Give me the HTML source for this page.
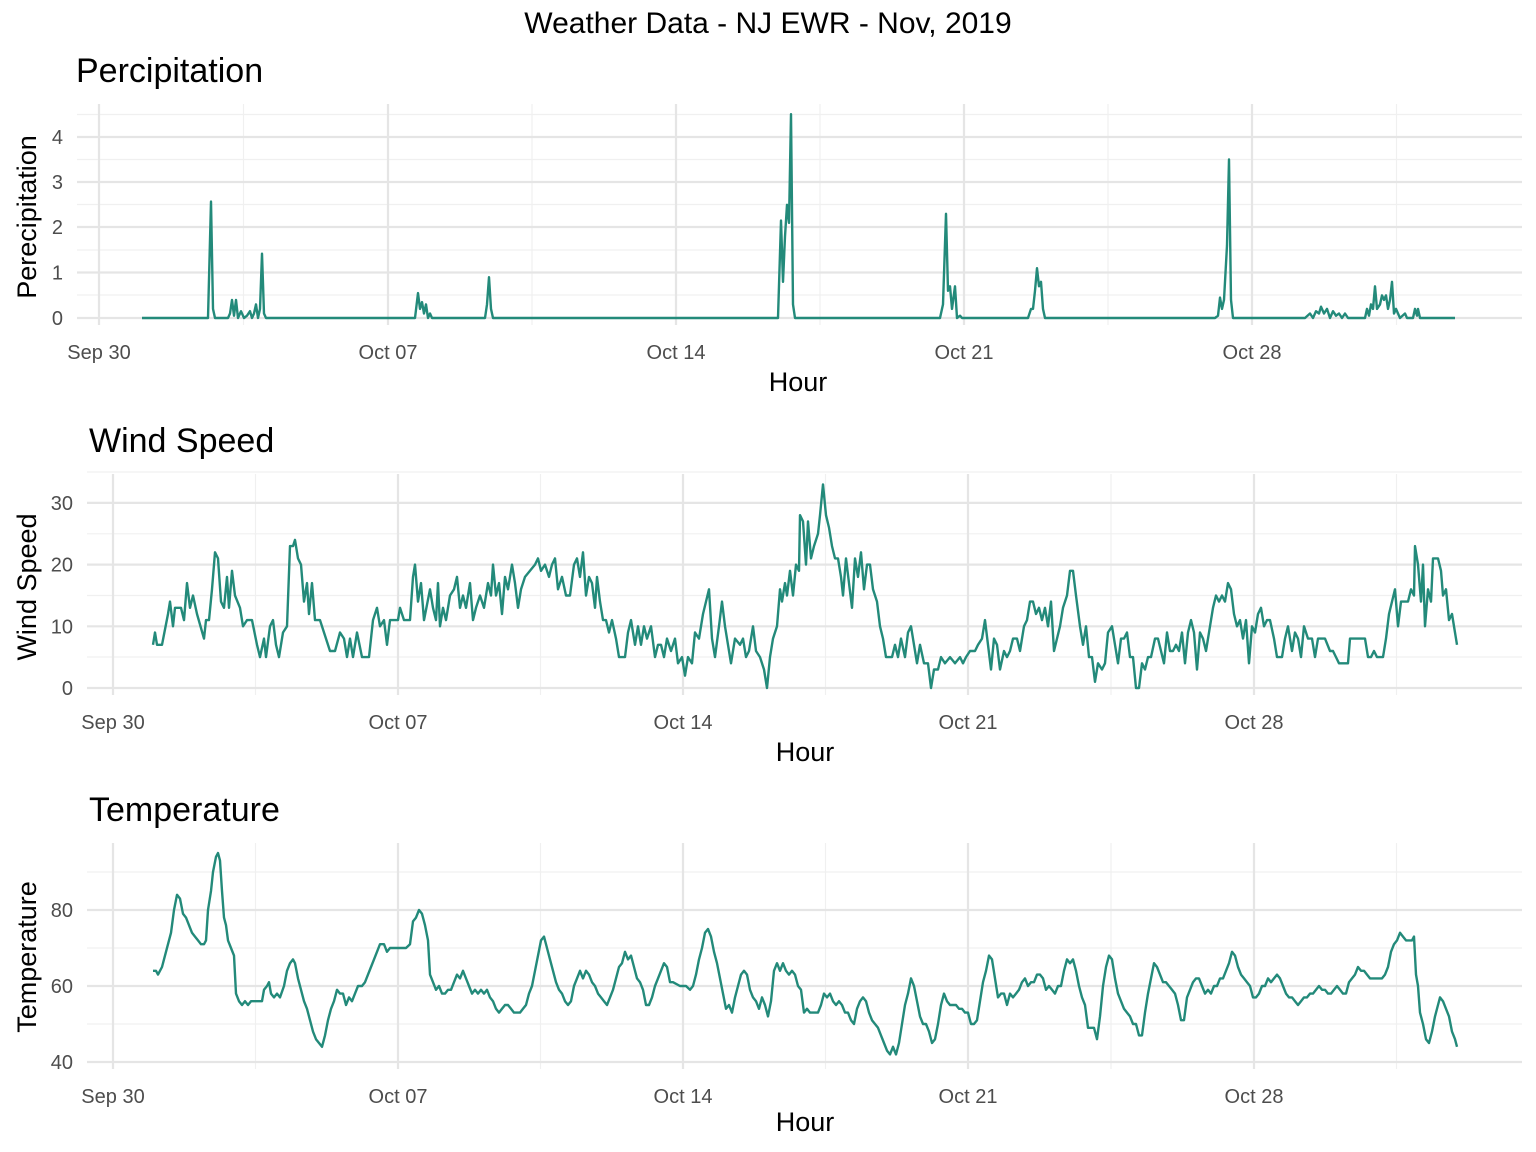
<!DOCTYPE html>
<html><head><meta charset="utf-8"><style>
body{margin:0;background:#fff;}
svg{display:block;font-family:"Liberation Sans",Arial,sans-serif;}
.tk{font-size:20px;fill:#4d4d4d;}
.ax{font-size:27px;fill:#000;}
.pt{font-size:34px;fill:#000;}
.mj{stroke:#e5e5e5;stroke-width:2.2;}
.mn{stroke:#f0f0f0;stroke-width:1.2;}
.ln{fill:none;stroke:#238a7a;stroke-width:2.4;stroke-linejoin:round;}
</style></head><body>
<svg id="s" width="1536" height="1152" viewBox="0 0 1536 1152" xmlns="http://www.w3.org/2000/svg">
<text x="768" y="33" text-anchor="middle" style="font-size:30px">Weather Data - NJ EWR - Nov, 2019</text>
<g id="g"></g>
<text class="pt" x="76" y="82">Percipitation</text>
<text class="pt" x="89" y="452">Wind Speed</text>
<text class="pt" x="89" y="821">Temperature</text>
<text class="ax" x="798" y="391" text-anchor="middle">Hour</text>
<text class="ax" x="805" y="761" text-anchor="middle">Hour</text>
<text class="ax" x="805" y="1131" text-anchor="middle">Hour</text>
<text class="ax" transform="translate(36,217) rotate(-90)" text-anchor="middle">Perecipitation</text>
<text class="ax" transform="translate(36,587) rotate(-90)" text-anchor="middle">Wind Speed</text>
<text class="ax" transform="translate(36,957) rotate(-90)" text-anchor="middle">Temperature</text>
</svg>
<script>
var NS="http://www.w3.org/2000/svg",g=document.getElementById('g');
function el(t,a,txt){var e=document.createElementNS(NS,t);for(var k in a)e.setAttribute(k,a[k]);if(txt!=null)e.textContent=txt;g.appendChild(e);return e;}
function panel(x0,x1,top,bot,xs,ymaj,ymin,ylab){
 ymin.forEach(function(y){el('line',{x1:x0,x2:x1,y1:y,y2:y,'class':'mn'});});
 for(var i=0;i<xs.length-1;i++){var m=(xs[i]+xs[i+1])/2;el('line',{x1:m,x2:m,y1:top,y2:bot,'class':'mn'});}
 var last=xs[xs.length-1]+(xs[1]-xs[0])/2;el('line',{x1:last,x2:last,y1:top,y2:bot,'class':'mn'});
 ymaj.forEach(function(y,i){el('line',{x1:x0,x2:x1,y1:y,y2:y,'class':'mj'});el('text',{x:x0-14,y:y+7,'text-anchor':'end','class':'tk'},ylab[i]);});
 var labs=['Sep 30','Oct 07','Oct 14','Oct 21','Oct 28'];
 xs.forEach(function(x,i){el('line',{x1:x,x2:x,y1:top,y2:bot,'class':'mj'});el('text',{x:x,y:bot+34,'text-anchor':'middle','class':'tk'},labs[i]);});
}
panel(77,1522,104,325,[99,388,676,964,1252],[318,272.5,227,182,137],[295,250,204.5,159.5,114.5],['0','1','2','3','4']);
panel(87,1522,474,695,[113,398,683,968,1254],[688,626.3,564.6,502.9],[657,595.5,533.8,472],['0','10','20','30']);
panel(87,1522,843,1069,[113,398,683,968,1254],[1062,986,910],[1024,948,872],['40','60','80']);
function line(arr,f){var p=[];for(var i=0;i<arr.length;i+=2)p.push(arr[i]+','+f(arr[i+1]).toFixed(1));el('polyline',{points:p.join(' '),'class':'ln'});}
var P=[142,0,208,0,211,2.57,213,0.2,215,0,228,0,230,0.1,232,0.4,234,0.05,236,0.4,238,0,241,0.15,244,0,247,0.05,250,0.15,252,0,254,0.1,256,0.3,258,0,260,0.2,262,1.42,264,0.1,266,0,415,0,418,0.55,420,0.2,422,0.35,424,0.1,426,0.3,428,0,430,0.1,432,0,485,0,487,0.3,489,0.9,491,0.2,493,0,778,0,781,2.15,783,0.8,785,1.8,787,2.5,789,2.1,791,4.5,793,0.3,795,0,940,0,943,0.3,946,2.3,948,0.6,950,0.7,952,0.2,955,0.7,957,0,960,0.05,962,0,1028,0,1031,0.2,1033,0.2,1035,0.6,1037,1.1,1039,0.7,1041,0.8,1043,0.2,1045,0,1215,0,1218,0.05,1220,0.45,1222,0.2,1224,0.4,1227,1.6,1229,3.5,1231,0.4,1233,0,1305,0,1310,0.1,1313,0,1316,0.15,1319,0.1,1321,0.25,1324,0.1,1327,0.2,1330,0,1333,0.15,1336,0.05,1339,0.1,1342,0,1345,0.1,1348,0,1365,0,1367,0.2,1369,0.05,1371,0.3,1373,0.2,1375,0.7,1377,0.2,1380,0.3,1382,0.5,1384,0.4,1386,0.5,1388,0.2,1390,0.4,1392,0.8,1394,0.1,1396,0.2,1398,0.1,1400,0,1405,0.1,1407,0,1413,0,1415,0.2,1417,0.05,1418,0.2,1420,0,1455,0];
line(P,function(v){return 318-v*45.3;});
var W=[153,7,155,9,157,7,162,7,168,12,170,14,173,10,175,13,181,13,184,11,187,17,190,13,193,15,197,12,204,8,206,11,209,11,212,16,215,22,218,21,221,14,224,13,227,18,229,13,232,19,235,15,240,13,243,10,247,11,252,11,257,7,260,5,264,8,266,5,270,10,273,11,276,7,279,5,283,9,287,10,290,23,293,23,295,24,298,21,301,20,304,14,307,17,309,12,312,17,315,11,320,11,324,9,330,6,335,6,340,9,344,8,347,5,350,8,353,5,357,9,362,5,369,5,373,11,377,13,380,10,384,11,387,7,390,11,398,11,400,13,404,11,410,11,413,18,415,20,418,14,421,17,424,11,430,16,433,13,436,11,438,17,440,10,443,13,446,11,450,15,454,16,457,18,460,13,463,15,466,13,470,17,473,11,476,13,480,15,484,13,488,17,491,15,493,20,496,15,499,17,502,12,505,18,508,16,512,20,515,17,518,13,521,16,525,18,530,19,535,20,538,21,541,19,545,20,549,18,552,20,555,21,558,16,562,18,566,15,570,15,574,20,577,21,580,18,583,22,586,15,589,18,592,17,595,13,597,18,600,14,603,11,606,11,609,9,612,11,616,8,619,5,625,5,628,9,631,11,635,7,638,10,641,7,644,10,647,8,651,10,655,5,658,7,661,7,664,5,667,8,671,6,675,8,678,4,682,5,685,2,688,5,692,4,695,9,699,8,703,12,706,14,709,16,712,8,715,5,719,10,722,14,725,10,728,7,731,4,735,8,740,7,743,8,746,5,749,6,753,10,756,6,760,5,764,3,767,0,770,5,773,8,777,10,780,16,782,14,785,17,787,15,790,19,793,15,796,20,799,19,800,28,803,27,806,20,808,27,811,21,814,23,818,25,820,28,823,33,826,28,829,26,832,23,835,21,838,21,841,18,843,15,846,21,849,17,852,13,855,21,858,18,861,22,864,16,867,20,870,20,873,16,877,14,880,10,883,8,886,5,892,5,895,7,898,5,901,8,905,5,908,9,911,10,914,7,917,4,920,7,924,4,928,4,931,0,934,3,938,3,941,5,945,4,950,5,955,4,960,5,963,4,966,5,970,6,975,6,978,7,982,8,985,11,988,7,991,3,994,8,997,7,1000,3,1004,6,1007,5,1010,6,1013,8,1017,8,1020,6,1024,10,1027,11,1030,14,1033,14,1036,12,1039,13,1042,11,1045,13,1048,10,1051,14,1054,6,1057,8,1060,10,1063,13,1067,15,1070,19,1073,19,1076,15,1080,10,1083,7,1086,10,1089,5,1092,5,1095,1,1098,4,1102,3,1105,4,1108,9,1112,10,1115,7,1118,4,1121,8,1124,8,1127,9,1130,5,1133,5,1136,0,1139,0,1142,4,1145,3,1148,5,1151,5,1155,8,1158,8,1161,6,1164,4,1167,9,1170,6,1173,6,1176,7,1179,6,1182,9,1185,4,1188,9,1191,11,1194,9,1197,3,1200,9,1203,8,1206,6,1210,10,1213,13,1216,15,1219,14,1222,15,1225,14,1228,17,1231,16,1234,12,1237,10,1240,11,1243,8,1246,11,1249,4,1252,10,1255,9,1258,12,1261,13,1264,10,1267,11,1270,11,1274,8,1277,5,1282,5,1285,8,1288,10,1292,6,1295,9,1298,8,1301,5,1304,10,1308,8,1312,8,1315,5,1318,8,1321,8,1325,8,1330,6,1333,6,1336,5,1339,4,1342,4,1348,4,1350,8,1365,8,1368,5,1371,5,1374,6,1377,5,1380,5,1383,5,1386,8,1389,12,1392,14,1395,16,1398,10,1401,14,1408,14,1411,16,1414,15,1415,23,1418,20,1421,14,1423,20,1425,10,1428,16,1431,14,1433,21,1438,21,1441,19,1443,15,1446,16,1449,11,1452,12,1455,9,1457,7];
line(W,function(v){return 688-v*6.17;});
var T=[153,64,156,64,158,63,162,65,165,68,168,71,171,74,174,80,177,84,180,83,183,79,186,78,189,76,192,74,195,73,198,72,201,71,204,71,206,72,208,80,211,85,213,90,216,94,218,95,220,93,222,85,224,78,226,76,228,72,231,70,234,68,236,58,239,56,242,55,245,56,248,55,251,56,256,56,262,56,264,59,267,60,269,61,271,58,274,57,277,58,280,57,284,60,287,64,290,66,293,67,295,66,298,62,301,59,304,56,307,54,310,51,313,48,316,46,319,45,322,44,325,47,328,51,331,54,334,56,337,59,340,58,343,58,346,55,349,57,352,56,355,58,358,60,362,60,365,61,368,63,371,65,374,67,377,69,380,71,384,71,387,69,390,70,395,70,400,70,406,70,410,71,413,77,416,78,419,80,422,79,425,76,428,72,430,63,433,61,436,59,439,60,442,58,445,58,448,59,451,59,454,61,457,63,460,62,463,64,466,62,469,60,472,58,475,59,478,58,481,59,484,58,487,59,490,57,493,56,496,54,499,53,502,54,505,55,508,55,511,54,514,53,520,53,523,54,526,55,529,58,532,60,535,64,538,68,541,72,544,73,547,70,550,67,553,64,556,61,559,59,562,58,565,56,568,55,571,56,574,60,577,62,580,64,583,62,586,64,589,63,592,61,595,60,598,58,601,57,604,56,607,55,610,57,613,59,616,62,619,65,622,66,625,69,628,67,631,68,634,65,637,62,640,61,643,59,646,55,649,55,652,57,655,60,658,62,661,64,664,66,667,65,670,61,673,61,680,60,686,60,690,59,693,60,696,63,699,67,702,70,705,74,708,75,711,73,714,69,717,66,720,62,723,58,726,54,729,55,732,53,735,57,738,60,741,63,744,64,747,63,750,59,753,57,756,56,759,54,762,57,765,55,768,52,771,56,774,64,777,66,780,64,783,66,786,64,789,63,792,64,795,63,798,60,801,59,804,53,807,54,810,53,813,53,818,53,821,55,824,58,827,57,830,58,833,56,836,55,839,56,842,55,845,53,848,53,851,51,854,50,857,54,860,56,863,57,866,56,869,53,872,51,875,50,878,49,881,47,884,45,887,43,890,42,893,44,896,42,899,45,902,50,905,55,908,58,911,62,914,60,917,56,920,52,923,50,926,50,929,48,932,45,935,46,938,50,941,55,944,58,947,56,950,55,953,55,956,55,959,54,962,54,965,53,968,53,971,50,974,50,977,51,980,56,983,61,986,64,989,68,992,67,995,62,998,57,1001,58,1004,58,1007,55,1010,58,1013,57,1016,58,1019,59,1022,61,1025,62,1028,60,1031,61,1034,61,1037,63,1040,63,1043,62,1046,59,1049,60,1052,59,1055,58,1058,60,1061,60,1064,64,1067,67,1070,66,1073,67,1076,64,1079,60,1082,57,1085,55,1088,49,1091,49,1094,49,1097,46,1100,52,1103,60,1106,65,1109,68,1112,67,1115,62,1118,58,1121,56,1124,54,1127,53,1130,52,1133,50,1136,50,1139,47,1142,47,1145,53,1148,58,1151,62,1154,66,1157,65,1160,63,1163,61,1166,61,1169,60,1172,59,1175,58,1178,55,1181,51,1184,51,1187,57,1190,59,1193,61,1196,62,1199,62,1202,60,1205,58,1208,59,1211,58,1214,60,1217,60,1220,62,1223,62,1226,64,1229,66,1232,69,1235,68,1238,65,1241,63,1244,62,1247,61,1250,60,1253,57,1256,57,1259,58,1262,60,1265,60,1268,62,1271,61,1274,62,1277,63,1280,62,1283,60,1286,58,1289,57,1292,57,1295,56,1298,55,1301,56,1304,57,1307,57,1310,58,1313,58,1316,59,1319,60,1322,59,1325,59,1328,58,1331,58,1334,59,1337,60,1340,59,1343,58,1346,58,1349,61,1352,62,1355,63,1358,65,1361,64,1364,64,1367,63,1370,62,1376,62,1382,62,1385,63,1388,65,1391,69,1394,71,1397,72,1400,74,1403,73,1406,72,1412,72,1414,73,1416,63,1418,60,1420,53,1423,50,1426,46,1429,45,1432,48,1435,52,1438,55,1440,57,1443,56,1446,54,1449,52,1452,48,1455,46,1457,44];
line(T,function(v){return 1062-(v-40)*3.8;});
</script>
</body></html>
